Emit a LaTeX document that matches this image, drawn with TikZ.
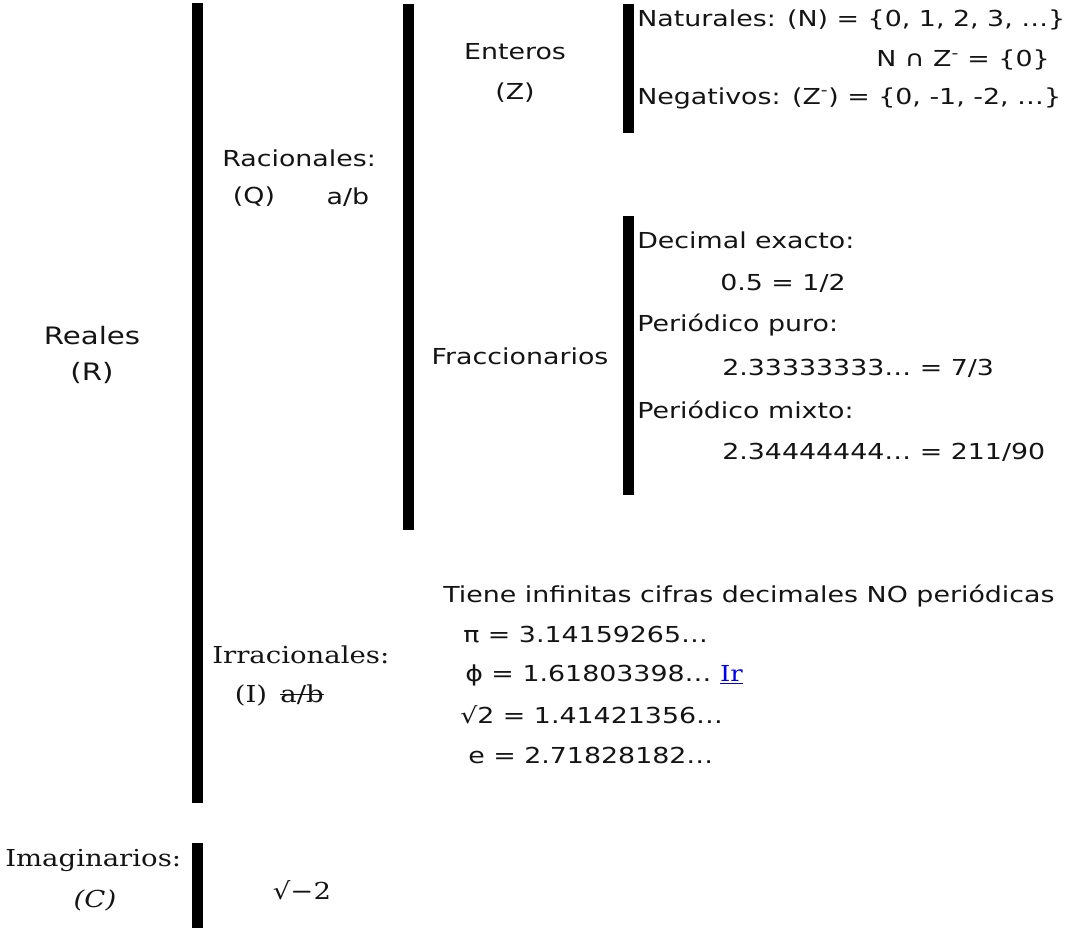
\documentclass[tikz,border=0pt]{standalone}
\usepackage{fontspec}
\usepackage{tikz}
\usetikzlibrary{positioning}
\newfontfamily\comicfont[FakeStretch=1.22]{DejaVu Sans}
\newfontfamily\seriffont[FakeStretch=1.18]{DejaVu Serif}
\definecolor{inkblack}{RGB}{20,20,20}
\definecolor{linkblue}{RGB}{0,0,238}
\begin{document}
\begin{tikzpicture}[
  x=0.75pt, y=-0.75pt,
  txt/.style={
    inner sep=0pt,
    text=inkblack,
    font=\comicfont\fontsize{16.5}{26}\selectfont
  },
  srf/.style={txt,font=\seriffont\fontsize{17.5}{30}\selectfont},
  bar/.style={line width=8.25pt,draw=black}
]
\useasboundingbox (0,0) rectangle (1086,928);
% brackets
\draw[bar] (197,3) -- (197,803);
\draw[bar] (408,4) -- (408,530);
\draw[bar] (628,4) -- (628,133);
\draw[bar] (628,216) -- (628,495);
\draw[bar] (197,843) -- (197,930);
% reales
\node[txt,align=center,font=\comicfont\fontsize{18}{27}\selectfont] (reales) at (92,355) {Reales\\(R)};
% racionales
\node[txt,anchor=west] (racion) at (222,158) {Racionales:};
\node[txt] (q) at (254,197) {(Q)};
\node[txt] (ab) at (348,197) {a/b};
% enteros
\node[txt,align=center,font=\comicfont\fontsize{16.5}{30}\selectfont] (enteros) at (515,73) {Enteros\\(Z)};
\node[txt,anchor=west] (natur) at (637,20) {Naturales: (N) = \{0, 1, 2, 3, …\}};
\node[txt,anchor=east] (inter) at (1050,60) {N ∩ Z\textsuperscript{-} = \{0\}};
\node[txt,anchor=west] (negat) at (637,98) {Negativos: (Z\textsuperscript{-}) = \{0, -1, -2, …\}};
% fraccionarios
\node[txt] (fracc) at (520,356) {Fraccionarios};
\node[txt,anchor=west] (exacto) at (637,240) {Decimal exacto:};
\node[txt,anchor=west] (exval) at (720,283) {0.5 = 1/2};
\node[txt,anchor=west] (puro) at (637,325) {Periódico puro:};
\node[txt,anchor=west] (puroval) at (722,368) {2.33333333… = 7/3};
\node[txt,anchor=west] (mixto) at (637,410) {Periódico mixto:};
\node[txt,anchor=west] (mixval) at (722,452) {2.34444444… = 211/90};
% irracionales
\node[srf,anchor=west] (irrac) at (212,655) {Irracionales:};
\node[srf] (i) at (251,695) {(I)};
\node[srf] (noab) at (302,695) {a/b};
\draw[inkblack,line width=0.9pt] ([yshift=0.5pt]noab.west) -- ([yshift=0.5pt]noab.east);
\node[txt,anchor=west] (tiene) at (443,596) {Tiene infinitas cifras decimales NO periódicas};
\node[txt,anchor=west] (pi) at (463,635) {π = 3.14159265…};
\node[txt,anchor=west] (phi) at (465,675) {ϕ = 1.61803398… \textcolor{linkblue}{\seriffont\underline{Ir}}};
\node[txt,anchor=west] (raiz) at (460,715) {√2 = 1.41421356…};
\node[txt,anchor=west] (euler) at (468,755) {e = 2.71828182…};
% imaginarios
\node[srf,anchor=west] (imag) at (5,860) {Imaginarios:};
\node[srf] (c) at (95,900) {\itshape (C)};
\node[srf] (raizneg) at (302,890) {√−2};
\end{tikzpicture}
\end{document}
